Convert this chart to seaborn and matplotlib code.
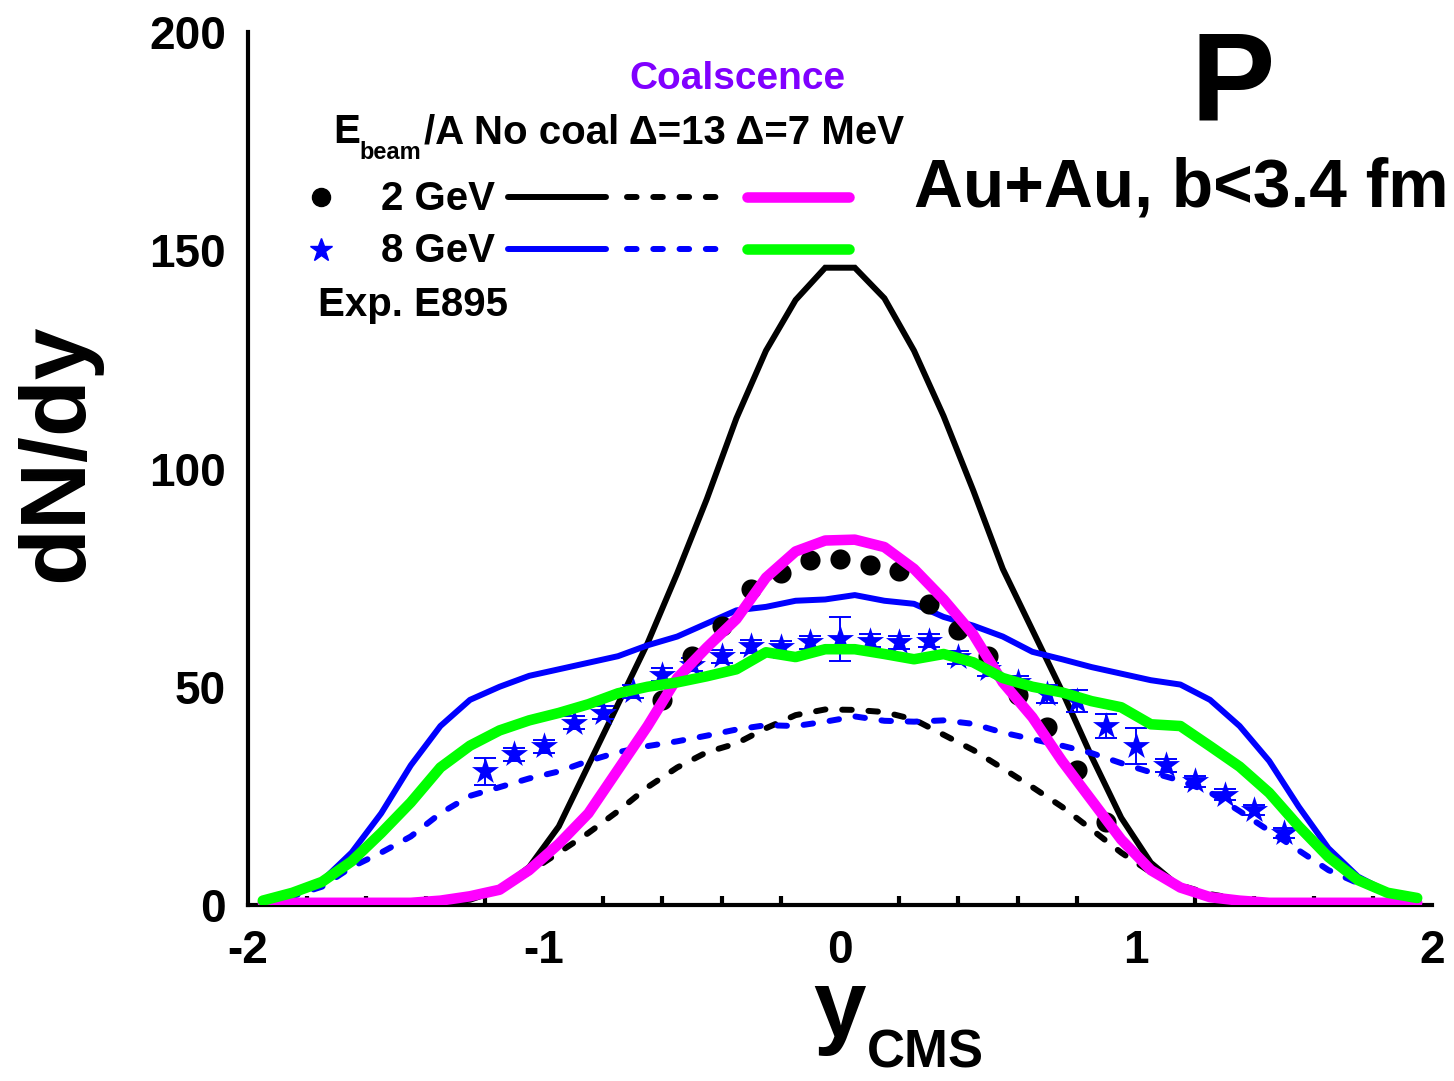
import numpy as np
import pandas as pd
import matplotlib
matplotlib.use("Agg")
import matplotlib.pyplot as plt
import seaborn as sns
from matplotlib.ticker import MultipleLocator, FixedLocator, FixedFormatter
from matplotlib.lines import Line2D

# ---------------- data ----------------
y_model = [-1.95, -1.85, -1.75, -1.65, -1.55, -1.45, -1.35, -1.25, -1.15, -1.05,
           -0.95, -0.85, -0.75, -0.65, -0.55, -0.45, -0.35, -0.25, -0.15, -0.05,
           0.05, 0.15, 0.25, 0.35, 0.45, 0.55, 0.65, 0.75, 0.85, 0.95,
           1.05, 1.15, 1.25, 1.35, 1.45, 1.55, 1.65, 1.75, 1.85, 1.95]

gev2_nocoal = [0, 0, 0, 0, 0.2, 0.3, 0.6, 1.2, 3.5, 8.7,
               18, 32, 46, 60, 76, 93, 111.5, 127, 138.6, 146,
               146, 139, 127, 112, 95, 77, 63, 49, 34, 20,
               9.7, 4, 1.5, 0.6, 0.3, 0.2, 0, 0, 0, 0]

gev2_d13 = [0.3, 0.3, 0.3, 0.3, 0.3, 0.6, 1.2, 2.0, 3.5, 7.5,
            12, 16.5, 21.5, 27, 31.5, 35, 37, 40.5, 43.5, 44.8,
            44.7, 44.2, 42.5, 39, 35.5, 31.3, 27, 22.5, 17.3, 12,
            7.5, 4.5, 2.5, 1.3, 0.8, 0.5, 0.5, 0.5, 0.5, 0.5]

gev2_d7 = [0.5, 0.5, 0.5, 0.5, 0.5, 0.5, 1.0, 2.0, 3.5, 8,
           14, 21, 31, 41, 52, 59, 65.5, 75, 81, 83.5,
           83.7, 82, 77, 70, 62, 51, 43, 33, 24, 15,
           8, 4, 1.8, 1.0, 0.5, 0.5, 0.5, 0.5, 0.5, 0.5]

gev8_nocoal = [1, 2.8, 5.5, 12, 21, 32, 41, 47, 50, 52.5,
               54, 55.5, 57, 59.5, 61.5, 64.5, 67.5, 68.3, 69.7, 70,
               71, 69.7, 69, 66, 64, 61.5, 58, 56.3, 54.5, 53,
               51.5, 50.5, 47, 41, 33, 22.5, 13, 6.5, 3, 1.6]

gev8_d13 = [0.5, 2, 4.2, 8.7, 12, 15.7, 21, 25, 27, 29,
            30.6, 33, 35, 36.4, 37.5, 38.8, 40.2, 41.2, 41, 42,
            43.2, 42.2, 42, 42.3, 41.5, 39.5, 38, 36.5, 34.8, 32.5,
            30.4, 28.5, 25.8, 21.5, 17, 12.5, 8, 5, 2.8, 1.6]

gev8_d7 = [1, 2.8, 5.3, 10, 16.5, 23.5, 31.5, 36.5, 40, 42.3,
           44, 46, 48.5, 50, 51, 52.4, 54, 57.9, 56.8, 58.6,
           58.6, 57.5, 56.3, 57.5, 55.6, 52, 50, 48.7, 46.7, 45.3,
           41.4, 41, 36.4, 31.7, 25.7, 18, 11, 5.7, 2.8, 1.6]

# E895 data, 2 GeV (circles)
exp2_y = [-0.6, -0.5, -0.4, -0.3, -0.2, -0.1, 0.0, 0.1, 0.2, 0.3, 0.4, 0.5, 0.6, 0.7, 0.8, 0.9]
exp2_dndy = [47, 57, 64, 72.5, 76, 79, 79.3, 78, 76.5, 69, 63, 57, 48, 40.7, 31, 19]

# E895 data, 8 GeV (stars)
exp8_y = [-1.2, -1.1, -1.0, -0.9, -0.8, -0.7, -0.6, -0.5, -0.4, -0.3, -0.2, -0.1, 0.0,
          0.1, 0.2, 0.3, 0.4, 0.5, 0.6, 0.7, 0.8, 0.9, 1.0, 1.1, 1.2, 1.3, 1.4, 1.5]
exp8_dndy = [30.6, 34.5, 36.4, 41.8, 44, 49, 52.8, 55, 57, 59.3, 59, 60.2, 61,
             60.5, 60.2, 60.5, 56.8, 54, 51, 48.3, 46.7, 41, 36.4, 32, 28.3, 25.3, 21.8, 16.5]
exp8_err = [3.0, 1.5, 1.5, 1.5, 1.5, 1.5, 1.5, 1.5, 1.5, 1.5, 1.5, 1.5, 5.0,
            1.5, 1.5, 1.5, 1.5, 1.5, 1.5, 2.0, 2.5, 2.7, 4.2, 1.5, 1.3, 1.2, 1.2, 1.2]

xtick_vals = [-2, -1, 0, 1, 2]
xtick_labels = ["-2", "-1", "0", "1", "2"]
ytick_vals = [0, 50, 100, 150, 200]
ytick_labels = ["0", "50", "100", "150", "200"]

# ---------------- style ----------------
W, H = 1454, 1081
sns.set_style("white")
plt.rcParams["font.family"] = ["Liberation Sans", "DejaVu Sans"]
plt.rcParams["font.weight"] = "bold"
plt.rcParams["axes.unicode_minus"] = False
plt.rcParams["mathtext.fontset"] = "custom"
plt.rcParams["mathtext.bf"] = "Liberation Sans:bold"
plt.rcParams["mathtext.rm"] = "Liberation Sans:bold"
for key in ["text.color", "axes.labelcolor", "xtick.color", "ytick.color",
            "axes.edgecolor"]:
    plt.rcParams[key] = "black"

fig = plt.figure(figsize=(W / 100, H / 100), dpi=100)
ax = fig.add_axes([248 / W, 1 - 905 / H, (1432 - 248) / W, (905 - 32) / H])

models = pd.DataFrame({
    "y": y_model,
    "g2_nc": gev2_nocoal, "g2_13": gev2_d13, "g2_7": gev2_d7,
    "g8_nc": gev8_nocoal, "g8_13": gev8_d13, "g8_7": gev8_d7,
})
exp2 = pd.DataFrame({"y": exp2_y, "dndy": exp2_dndy})
exp8 = pd.DataFrame({"y": exp8_y, "dndy": exp8_dndy, "err": exp8_err})

DASH = (0, (1.6, 2.8))
solid_lw = 4.3
thick_lw = 7.6

sns.lineplot(data=models, x="y", y="g2_nc", ax=ax, color="black", lw=solid_lw,
             solid_joinstyle="miter", zorder=3)
sns.lineplot(data=models, x="y", y="g8_nc", ax=ax, color="#0000FF", lw=solid_lw, zorder=3)
sns.lineplot(data=models, x="y", y="g2_13", ax=ax, color="black", lw=solid_lw,
             linestyle=DASH, dash_capstyle="round", zorder=3)
sns.lineplot(data=models, x="y", y="g8_13", ax=ax, color="#0000FF", lw=solid_lw,
             linestyle=DASH, dash_capstyle="round", zorder=3)

ax.errorbar(exp8["y"], exp8["dndy"], yerr=exp8["err"], fmt="none", ecolor="#0000FF",
            elinewidth=1.4, capsize=8, capthick=1.4, zorder=4)
sns.scatterplot(data=exp8, x="y", y="dndy", ax=ax, marker="*", s=420, color="#0000FF",
                edgecolor="#0000FF", linewidth=0, zorder=5)
sns.scatterplot(data=exp2, x="y", y="dndy", ax=ax, marker="o", s=210, color="black",
                edgecolor="black", linewidth=0, zorder=5)

sns.lineplot(data=models, x="y", y="g2_7", ax=ax, color="#FF00FF", lw=thick_lw, zorder=6)
sns.lineplot(data=models, x="y", y="g8_7", ax=ax, color="#00FF00", lw=thick_lw, zorder=6)

ax.set_xlim(-2, 2)
ax.set_ylim(0, 200)
ax.set_xlabel("")
ax.set_ylabel("")
for s in ["top", "right"]:
    ax.spines[s].set_visible(False)
for s in ["left", "bottom"]:
    ax.spines[s].set_linewidth(3.0)
    ax.spines[s].set_color("black")
ax.xaxis.set_major_locator(FixedLocator(xtick_vals))
ax.xaxis.set_major_formatter(FixedFormatter(xtick_labels))
ax.xaxis.set_minor_locator(MultipleLocator(0.2))
ax.yaxis.set_major_locator(FixedLocator(ytick_vals))
ax.yaxis.set_major_formatter(FixedFormatter(ytick_labels))
ax.tick_params(axis="both", which="major", direction="in", length=13, width=3,
               labelsize=33, color="black", labelcolor="black")
ax.tick_params(axis="x", which="major", pad=17)
ax.tick_params(axis="y", which="major", pad=16)
ax.tick_params(axis="x", which="minor", direction="in", length=6.5, width=3, bottom=True,
               color="black")
for lab in ax.get_xticklabels() + ax.get_yticklabels():
    lab.set_fontweight("bold")


def ptext(px, py, s, **kw):
    kw.setdefault("fontweight", "bold")
    kw.setdefault("color", "black")
    return fig.text(px / W, 1 - py / H, s, **kw)


def pline(x0, x1, py, **kw):
    fig.add_artist(Line2D([x0 / W, x1 / W], [1 - py / H, 1 - py / H],
                          transform=fig.transFigure, **kw))


def pmark(px, py, **kw):
    fig.add_artist(Line2D([px / W], [1 - py / H], transform=fig.transFigure,
                          linestyle="none", **kw))


# axis labels
ptext(58, 453, "dN/dy", fontsize=67, rotation=90, ha="center", va="center")
ptext(840, 1036, r"$\mathbf{y}$", fontsize=68, ha="center", va="baseline")
ptext(867, 1068, "CMS", fontsize=38, ha="left", va="baseline")

# annotations
ptext(1233, 120, "P", fontsize=91, ha="center", va="baseline")
ptext(914, 207, "Au+Au, b<3.4 fm", fontsize=48.8, ha="left", va="baseline")
ptext(737, 89, "Coalscence", fontsize=28, ha="center", va="baseline", color="#8000FF")

# legend
ptext(333, 143, "E", fontsize=29, ha="left", va="baseline")
ptext(359, 159, "beam", fontsize=17, ha="left", va="baseline")
ptext(424, 143, "/A No coal \u0394=13 \u0394=7 MeV", fontsize=29, ha="left", va="baseline")
ptext(381, 210, "2 GeV", fontsize=29, ha="left", va="baseline")
ptext(381, 262, "8 GeV", fontsize=29, ha="left", va="baseline")
ptext(318, 316, "Exp. E895", fontsize=29, ha="left", va="baseline")

pmark(321, 197, marker="o", ms=13, color="black", mec="black")
pmark(321, 250, marker="*", ms=17, color="#0000FF", mec="#0000FF")
pline(508, 606, 197, color="black", lw=solid_lw, solid_capstyle="round")
pline(627, 717, 197, color="black", lw=solid_lw, linestyle=DASH, dash_capstyle="round")
pline(747, 849, 197, color="#FF00FF", lw=thick_lw, solid_capstyle="round")
pline(508, 606, 249, color="#0000FF", lw=solid_lw, solid_capstyle="round")
pline(627, 717, 249, color="#0000FF", lw=solid_lw, linestyle=DASH, dash_capstyle="round")
pline(747, 849, 249, color="#00FF00", lw=thick_lw, solid_capstyle="round")

fig.savefig("out.png", dpi=100)
